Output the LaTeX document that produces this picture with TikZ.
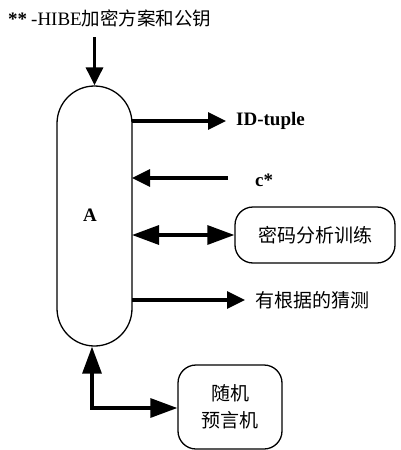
\documentclass[tikz,border=0pt]{standalone}
\usepackage{fontspec}
\setmainfont{Liberation Serif}
\newfontfamily\cjk{Noto Sans CJK SC}
\usetikzlibrary{arrows.meta}
\begin{document}
\begin{tikzpicture}[x=1pt,y=-1pt,
  tip/.tip={Triangle[length=18pt,width=17pt]},
  longtip/.tip={Triangle[length=27pt,width=19pt]},
  conn/.style={line width=3.2pt,-tip},
  dconn/.style={line width=3.2pt,longtip-longtip},
  lbl/.style={font=\fontsize{19}{21}\selectfont\bfseries,anchor=west,inner sep=0pt},
  clbl/.style={font=\fontsize{19}{21}\selectfont\cjk,anchor=west,inner sep=0pt},
  rbox/.style={draw,line width=1.3pt,rounded corners=18pt,font=\fontsize{19}{21}\selectfont\cjk}]
\useasboundingbox (0,0) rectangle (401,450);
% capsule for the adversary A
\node[draw,line width=1.3pt,rounded corners=37.5pt,minimum width=75pt,minimum height=260pt,inner sep=0pt] (A) at (94.5,216) {};
\node[font=\fontsize{19}{21}\selectfont\bfseries] (Alab) at (90,215) {A};
% title input
\node[anchor=west,inner sep=0pt,font=\fontsize{19}{21}\selectfont] (title) at (8,18) {\textbf{**}\hspace{4pt}-HIBE{\fontsize{18.5}{21}\selectfont\cjk 加密方案和公钥}};
\coordinate (tin) at (94.5,37);
\draw[conn] (tin) -- (A.north);
% outputs and inputs on the right
\coordinate (id) at (132,121);
\node[lbl] (idt) at (236,121) {ID-tuple};
\coordinate (idend) at (226,121);
\draw[conn] (id) -- (idend);
\coordinate (cstart) at (228,178);
\coordinate (cend) at (132,178);
\node[lbl] (cs) at (255,180) {c*};
\draw[conn] (cstart) -- (cend);
\node[rbox,minimum width=160pt,minimum height=56pt] (train) at (315,235) {密码分析训练};
\coordinate (dstart) at (132,235);
\draw[dconn] (dstart) -- (train.west);
\coordinate (gstart) at (132,300);
\coordinate (gend) at (245,300);
\node[clbl] (guess) at (255,300) {有根据的猜测};
\draw[conn] (gstart) -- (gend);
% random oracle
\node[rbox,minimum width=104pt,minimum height=84pt,align=center] (ro) at (230,407) {随机\\[6pt]预言机};
\coordinate (corner) at (92,408);
\draw[dconn] (A.south -| corner) -- (corner) -- (ro.west |- corner);
\end{tikzpicture}
\end{document}
